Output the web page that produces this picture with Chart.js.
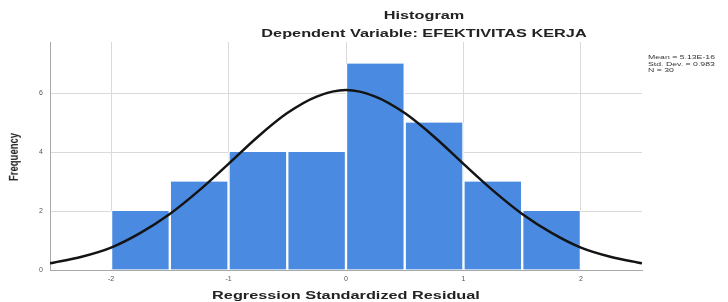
<!DOCTYPE html>
<html>
<head>
<meta charset="utf-8">
<script src="https://cdn.jsdelivr.net/npm/chart.js@4/dist/chart.umd.min.js"></script>
<style>
    html, body { margin: 0; padding: 0; background: #fff; }
    #wrap { position: relative; width: 728px; height: 302px; overflow: hidden; font-family: Arial, "Liberation Sans", sans-serif; }
    #chart { position: absolute; left: 0; top: 0; }
    .txt { position: absolute; white-space: nowrap; color: #222; transform-origin: center center; }
    .ttl { font-weight: bold; font-size: 11px; transform: translate(-50%, -50%) scaleX(1.48); }
    #stats { position: absolute; left: 648px; top: 54px; font-size: 6px; line-height: 6.5px; color: #333; transform: scaleX(1.45); transform-origin: left top; }
</style>
</head>
<body>
<div id="wrap">
    <canvas id="chart" width="728" height="302"></canvas>
    <div class="txt ttl" style="left:424px; top:15px;">Histogram</div>
    <div class="txt ttl" style="left:424px; top:33px;">Dependent Variable: EFEKTIVITAS KERJA</div>
    <div class="txt ttl" style="left:346px; top:295px;">Regression Standardized Residual</div>
    <div class="txt" style="left:13px; top:157px; font-weight:bold; font-size:9.5px; transform: translate(-50%, -50%) scaleX(1.3) rotate(-90deg);">Frequency</div>
    <div id="stats"></div>
</div>
<script>
'use strict';

// histogram bins (width 0.5) and counts
const binCenters = [-1.75, -1.25, -0.75, -0.25, 0.25, 0.75, 1.25, 1.75];
const frequency = [2, 3, 4, 4, 7, 5, 3, 2];

// normal curve
const curveX = [-2.52, -2.25, -2, -1.75, -1.5, -1.25, -1, -0.75, -0.5, -0.25, 0,
    0.25, 0.5, 0.75, 1, 1.25, 1.5, 1.75, 2, 2.25, 2.52];
const curveY = [0.23, 0.45, 0.76, 1.26, 1.9, 2.7, 3.6, 4.52, 5.32, 5.88, 6.1,
    5.88, 5.32, 4.52, 3.6, 2.7, 1.9, 1.26, 0.76, 0.45, 0.23];

const xTicks = [-2, -1, 0, 1, 2];
const yTicks = [0, 2, 4, 6];
const statsText = ['Mean = 5.13E-16', 'Std. Dev. = 0.983', 'N = 30'];

document.getElementById('stats').innerHTML = statsText.join('<br>');

let ctx = document.getElementById('chart');
let gridColor = '#dadada';
let axisColor = '#a9a9a9';

let data = {
    datasets: [{
        type: 'line',
        data: curveX.map((x, i) => ({x: x, y: curveY[i]})),
        borderColor: '#141414',
        borderWidth: 2.5,
        pointRadius: 0,
        fill: false,
        cubicInterpolationMode: 'monotone',
        order: 0
    }, {
        type: 'bar',
        data: binCenters.map((x, i) => ({x: x, y: frequency[i]})),
        backgroundColor: 'rgb(74, 139, 225)',
        borderColor: '#ffffff',
        borderWidth: {left: 1.5, right: 1.5, top: 0, bottom: 0},
        borderSkipped: false,
        barPercentage: 1,
        categoryPercentage: 1,
        order: 1
    }]
};

let chart = new Chart(ctx, {
    type: 'bar',
    data: data,
    options: {
        responsive: false,
        animation: false,
        events: [],
        layout: {padding: {left: 0, right: 86, top: 42, bottom: 0}},
        plugins: {legend: {display: false}, tooltip: {enabled: false}},
        scales: {
            x: {
                type: 'linear',
                min: -2.52,
                max: 2.52,
                offset: false,
                afterBuildTicks: s => { s.ticks = xTicks.map(v => ({value: v})); },
                afterFit: s => { s.height = 32; },
                grid: {color: gridColor, offset: false, drawTicks: false},
                border: {color: axisColor},
                ticks: {
                    padding: 5,
                    color: '#555',
                    font: {size: 7, family: 'Arial'},
                    maxRotation: 0
                }
            },
            y: {
                min: 0,
                max: 7.73,
                afterBuildTicks: s => { s.ticks = yTicks.map(v => ({value: v})); },
                afterFit: s => { s.width = 50; },
                grid: {color: gridColor, drawTicks: false},
                border: {color: axisColor},
                ticks: {
                    padding: 7,
                    color: '#555',
                    font: {size: 7, family: 'Arial'}
                }
            }
        }
    }
});
</script>
</body>
</html>
